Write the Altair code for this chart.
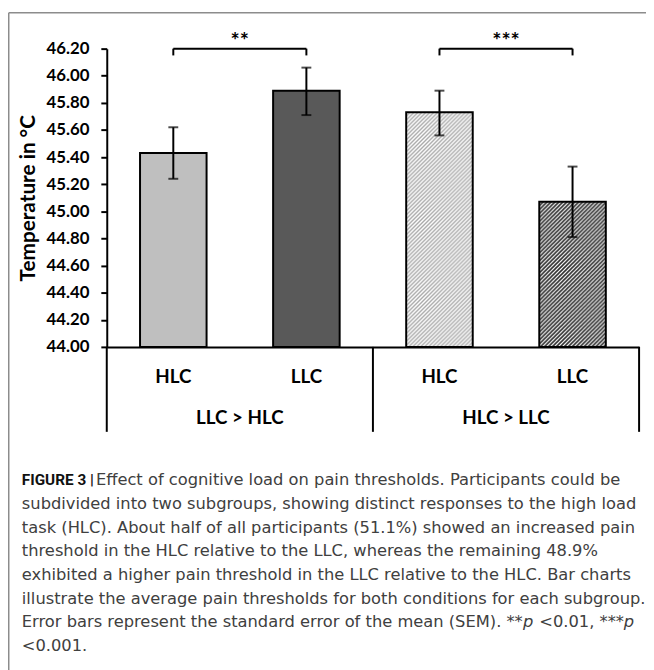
import altair as alt
import pandas as pd
from urllib.parse import quote

# ---------------- data ----------------
subgroups = ["LLC > HLC", "LLC > HLC", "HLC > LLC", "HLC > LLC"]
conditions = ["HLC", "LLC", "HLC", "LLC"]
means = [45.43, 45.89, 45.73, 45.07]
sem_low = [45.24, 45.71, 45.56, 44.81]
sem_high = [45.62, 46.06, 45.89, 45.33]
group_names = ["LLC > HLC", "HLC > LLC"]
sig_pairs = [(0, 1), (2, 3)]
sig_labels = ["**", "***"]
y_tick_values = [44.00, 44.20, 44.40, 44.60, 44.80, 45.00, 45.20, 45.40,
                 45.60, 45.80, 46.00, 46.20]
y_min, y_max = 44.00, 46.20
y_title = "Temperature in °C"
caption_bold = "FIGURE 3 |"
caption_lines = [
    "Effect of cognitive load on pain thresholds. Participants could be",
    "subdivided into two subgroups, showing distinct responses to the high load",
    "task (HLC). About half of all participants (51.1%) showed an increased pain",
    "threshold in the HLC relative to the LLC, whereas the remaining 48.9%",
    "exhibited a higher pain threshold in the LLC relative to the HLC. Bar charts",
    "illustrate the average pain thresholds for both conditions for each subgroup.",
    "Error bars represent the standard error of the mean (SEM). **",
    "<0.001.",
]
caption_line7_parts = ["p", "<0.01, ***", "p"]

# ---------------- layout / style ----------------
W, H = 539, 302
PAD_L, PAD_T = 100, 37
FONT = "Lato"
CAP_FONT = "DejaVu Sans"
CAP_SIZE = 16.5

keys = [f"{g}|{c}" for g, c in zip(subgroups, conditions)]
bars_df = pd.DataFrame({"key": keys, "mean": means, "lo": sem_low,
                        "hi": sem_high, "base": y_min})
sig_df = pd.DataFrame({
    "k1": [keys[a] for a, b in sig_pairs],
    "k2": [keys[b] for a, b in sig_pairs],
    "yb": y_max,
    "label": sig_labels,
    "gpos": [1, 3],
})
ends_df = pd.DataFrame({"key": keys, "yb": y_max, "yend": y_max - 0.05})
groups_df = pd.DataFrame({"group": group_names, "gpos": [1, 3]})
div_df = pd.DataFrame({"pos": [0, 2, 4]})
one = pd.DataFrame({"a": [0]})

band = alt.Scale(domain=keys, paddingInner=0.5, paddingOuter=0.25)
yscale = alt.Scale(domain=[y_min, y_max], nice=False, zero=False)
gscale = alt.Scale(domain=[0, 4], nice=False, zero=False)

x_axis = alt.Axis(title=None, labelExpr="split(datum.label, '|')[1]",
                  labelAngle=0, labelFont=FONT, labelFontWeight="bold",
                  labelFontSize=19, labelColor="black", labelPadding=30,
                  labelBaseline="middle", ticks=False, tickSize=0,
                  domainColor="black", domainWidth=2, grid=False)
y_axis = alt.Axis(values=y_tick_values, format=".2f", title=y_title,
                  titleFont=FONT, titleFontSize=21, titleFontWeight="bold",
                  titleColor="black", titlePadding=8,
                  labelFont=FONT, labelFontSize=17, labelFontWeight="bold",
                  labelColor="black", labelPadding=12, tickSize=6, tickWidth=2,
                  tickColor="black", domainColor="black", domainWidth=2,
                  grid=False)


def hatch_uri(line_color, line_width):
    svg = (
        "<svg xmlns='http://www.w3.org/2000/svg' width='100%' height='100%'>"
        "<defs><pattern id='h' width='4' height='4' patternUnits='userSpaceOnUse'>"
        "<rect width='4' height='4' fill='white'/>"
        f"<path d='M-1,1 l2,-2 M0,4 l4,-4 M3,5 l2,-2' stroke='{line_color}' "
        f"stroke-width='{line_width}'/></pattern></defs>"
        "<rect width='100%' height='100%' fill='url(#h)'/></svg>"
    )
    return "data:image/svg+xml;charset=utf-8," + quote(svg)


xb = alt.X("key:N", scale=band, axis=None)


def yq(f):
    return alt.Y(f, scale=yscale, axis=y_axis)


solid = alt.Chart(bars_df).transform_filter(
    alt.FieldOneOfPredicate(field="key", oneOf=keys[:2])
).mark_bar(stroke="black", strokeWidth=2).encode(
    x=alt.X("key:N", scale=band, axis=x_axis),
    y=yq("mean:Q"),
    y2="base",
    fill=alt.Fill("key:N", scale=alt.Scale(domain=keys[:2],
                                           range=["#bfbfbf", "#595959"]),
                  legend=None),
)

hatch_styles = {2: ("#a9a9a9", 1.4, "#dedede"), 3: ("#2e2e2e", 1.6, "#7a7a7a")}
hatched = []
for i, (lc, lw, fb) in hatch_styles.items():
    sel = alt.Chart(bars_df).transform_filter(alt.datum.key == keys[i])
    hatched.append(sel.mark_bar(fill=fb).encode(x=xb, y=yq("mean:Q"), y2="base"))
    hatched.append(sel.mark_image(aspect=False).encode(
        x=xb, y=yq("mean:Q"), y2="base", url=alt.value(hatch_uri(lc, lw))))
    hatched.append(sel.mark_bar(fill="transparent", stroke="black", strokeWidth=2)
                   .encode(x=xb, y=yq("mean:Q"), y2="base"))

err_rule = alt.Chart(bars_df).mark_rule(color="black", strokeWidth=2).encode(
    x=xb, y=yq("lo:Q"), y2="hi")
cap_lo = alt.Chart(bars_df).mark_tick(color="black", thickness=2, size=10).encode(
    x=xb, y=yq("lo:Q"))
cap_hi = alt.Chart(bars_df).mark_tick(color="black", thickness=2, size=10).encode(
    x=xb, y=yq("hi:Q"))

br_h = alt.Chart(sig_df).mark_rule(color="black", strokeWidth=2).encode(
    x=alt.X("k1:N", scale=band, axis=None), x2="k2", y=yq("yb:Q"))
br_v = alt.Chart(ends_df).mark_rule(color="black", strokeWidth=2).encode(
    x=xb, y=yq("yb:Q"), y2="yend")
stars = alt.Chart(sig_df).mark_text(font=FONT, fontSize=22, fontWeight="bold",
                                    baseline="alphabetic", dy=-1, color="black").encode(
    x=alt.X("gpos:Q", scale=gscale, axis=None), y=yq("yb:Q"), text="label:N")

dividers = alt.Chart(div_df).mark_rule(color="black", strokeWidth=2).encode(
    x=alt.X("pos:Q", scale=gscale, axis=None), y=alt.value(H), y2=alt.value(H + 86))
glabels = alt.Chart(groups_df).mark_text(font=FONT, fontSize=19, fontWeight="bold",
                                         baseline="middle", color="black").encode(
    x=alt.X("gpos:Q", scale=gscale, axis=None), y=alt.value(374), text="group:N")

frame_color = "#8c8c8c"
frame_l = alt.Chart(one).mark_rule(color=frame_color, strokeWidth=1.5).encode(
    x=alt.value(-PAD_L + 0.75), y=alt.value(-PAD_T + 0.75), y2=alt.value(700))
frame_t = alt.Chart(one).mark_rule(color=frame_color, strokeWidth=1.5).encode(
    x=alt.value(-PAD_L + 0.75), x2=alt.value(600), y=alt.value(-PAD_T + 0.75))

cap_layers = []
cap_x0 = -86
cap_y0 = 437
cap_dy = 24
cap_color = "#404040"


def ctext(txt, x, y, weight="normal", style="normal", color=cap_color,
          font=CAP_FONT, size=CAP_SIZE):
    return alt.Chart(one).mark_text(
        font=font, fontSize=size, fontWeight=weight, fontStyle=style,
        align="left", baseline="middle", color=color
    ).encode(x=alt.value(x), y=alt.value(y), text=alt.value(txt))


cap_layers.append(ctext(caption_bold, cap_x0, cap_y0, weight="bold",
                        color="#111111", font="Roboto", size=15.5))
cap_layers.append(ctext(caption_lines[0], 97 - 108, cap_y0))
for i, line in enumerate(caption_lines[1:], start=1):
    cap_layers.append(ctext(line, cap_x0, cap_y0 + cap_dy * i))
y7 = cap_y0 + cap_dy * 6
part_x = [529.5, 546, 631.5]
for txt, px in zip(caption_line7_parts, part_x):
    cap_layers.append(ctext(txt, px - 108, y7,
                            style="italic" if txt == "p" else "normal"))

chart = alt.layer(
    solid, *hatched, err_rule, cap_lo, cap_hi, br_h, br_v, stars,
    dividers, glabels, frame_l, frame_t, *cap_layers
).resolve_scale(x="independent").properties(
    width=W, height=H,
    padding={"left": PAD_L, "top": PAD_T, "right": 7, "bottom": 323},
    autosize=alt.AutoSizeParams(type="none"),
    background="white",
).configure_view(stroke=None)

chart.save("out.html", embed_options={"renderer": "svg", "actions": False})
